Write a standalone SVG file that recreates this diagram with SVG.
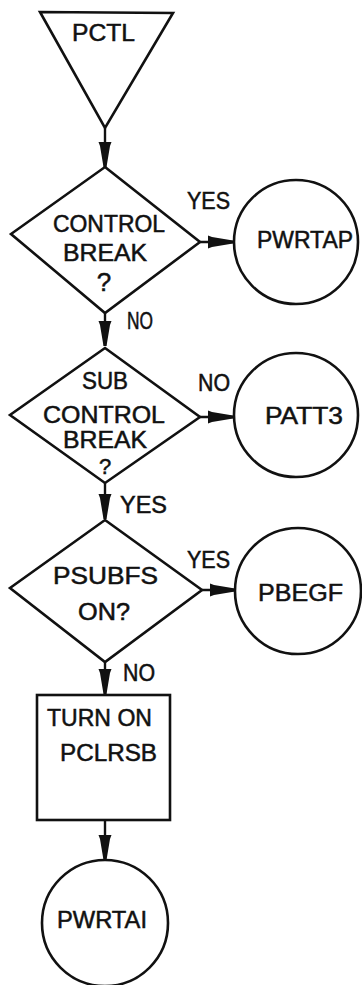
<svg xmlns="http://www.w3.org/2000/svg" width="362" height="985" viewBox="0 0 362 985">
<style>
.s{fill:#fff;stroke:#111;stroke-width:2.6;stroke-linejoin:miter}
.c{fill:none;stroke:#111;stroke-width:2.4}
.t{font-family:"Liberation Sans",Arial,sans-serif;font-size:23px;fill:#111;stroke:#111;stroke-width:0.5;text-anchor:middle}
</style>
<defs>
<marker id="ah" markerUnits="userSpaceOnUse" viewBox="0 -7 25 14" refX="25" refY="0" markerWidth="25" markerHeight="14" orient="auto">
<path d="M0,-6.5 L4,-5 L25,-1.5 L25,1.5 L4,5 L0,6.5 Z" fill="#111"/>
</marker>
</defs>
<rect width="362" height="985" fill="#fff"/>
<g id="connectors">
<line class="c" x1="105" y1="128" x2="105" y2="167" marker-end="url(#ah)"/>
<line class="c" x1="200" y1="242" x2="233" y2="242" marker-end="url(#ah)"/>
<line class="c" x1="105" y1="313" x2="105" y2="346" marker-end="url(#ah)"/>
<line class="c" x1="200" y1="417" x2="233" y2="417" marker-end="url(#ah)"/>
<line class="c" x1="105" y1="483" x2="105" y2="519" marker-end="url(#ah)"/>
<line class="c" x1="202" y1="590" x2="235" y2="590" marker-end="url(#ah)"/>
<line class="c" x1="105" y1="662" x2="105" y2="694" marker-end="url(#ah)"/>
<line class="c" x1="105" y1="820" x2="105" y2="860" marker-end="url(#ah)"/>
<text class="t" x="208.5" y="209" textLength="43" lengthAdjust="spacingAndGlyphs">YES</text>
<text class="t" x="140" y="329" textLength="26" lengthAdjust="spacingAndGlyphs">NO</text>
<text class="t" x="214" y="391" textLength="32" lengthAdjust="spacingAndGlyphs">NO</text>
<text class="t" x="143.5" y="513" textLength="47" lengthAdjust="spacingAndGlyphs">YES</text>
<text class="t" x="208.5" y="568" textLength="43" lengthAdjust="spacingAndGlyphs">YES</text>
<text class="t" x="139" y="681" textLength="32" lengthAdjust="spacingAndGlyphs">NO</text>
</g>
<g id="pctl">
<polygon class="s" points="40,12 173,13 105,128"/>
<text class="t" x="103.5" y="41" textLength="63" lengthAdjust="spacingAndGlyphs">PCTL</text>
</g>
<g id="control-break">
<polygon class="s" points="105,167 200,242 105,313 11,234"/>
<text class="t" x="109" y="232" textLength="112" lengthAdjust="spacingAndGlyphs">CONTROL</text>
<text class="t" x="105" y="261" textLength="84" lengthAdjust="spacingAndGlyphs">BREAK</text>
<text class="t" x="104" y="291" style="font-size:26px">?</text>
</g>
<g id="pwrtap">
<circle class="s" cx="296" cy="242" r="62"/>
<text class="t" x="305" y="248" textLength="96" lengthAdjust="spacingAndGlyphs">PWRTAP</text>
</g>
<g id="sub-control-break">
<polygon class="s" points="105,348 200,417 105,483 10,415"/>
<text class="t" x="105" y="389" textLength="46" lengthAdjust="spacingAndGlyphs">SUB</text>
<text class="t" x="104" y="423" textLength="122" lengthAdjust="spacingAndGlyphs">CONTROL</text>
<text class="t" x="105" y="448" textLength="84" lengthAdjust="spacingAndGlyphs">BREAK</text>
<text class="t" x="105" y="474" style="font-size:22px">?</text>
</g>
<g id="patt3">
<circle class="s" cx="296" cy="415" r="62"/>
<text class="t" x="304" y="424" textLength="78" lengthAdjust="spacingAndGlyphs">PATT3</text>
</g>
<g id="psubfs-on">
<polygon class="s" points="105,520 202,590 105,662 10,588"/>
<text class="t" x="105.5" y="584" textLength="105" lengthAdjust="spacingAndGlyphs">PSUBFS</text>
<text class="t" x="104" y="620" textLength="52" lengthAdjust="spacingAndGlyphs">ON?</text>
</g>
<g id="pbegf">
<circle class="s" cx="298" cy="591" r="63"/>
<text class="t" x="300.5" y="601" textLength="85" lengthAdjust="spacingAndGlyphs">PBEGF</text>
</g>
<g id="turn-on-pclrsb">
<rect class="s" x="37" y="695" width="133" height="125"/>
<text class="t" x="99.5" y="726" textLength="105" lengthAdjust="spacingAndGlyphs">TURN ON</text>
<text class="t" x="108.5" y="761" textLength="97" lengthAdjust="spacingAndGlyphs">PCLRSB</text>
</g>
<g id="pwrtai">
<circle class="s" cx="105" cy="923" r="63"/>
<text class="t" x="102" y="928" textLength="90" lengthAdjust="spacingAndGlyphs">PWRTAI</text>
</g>
</svg>
